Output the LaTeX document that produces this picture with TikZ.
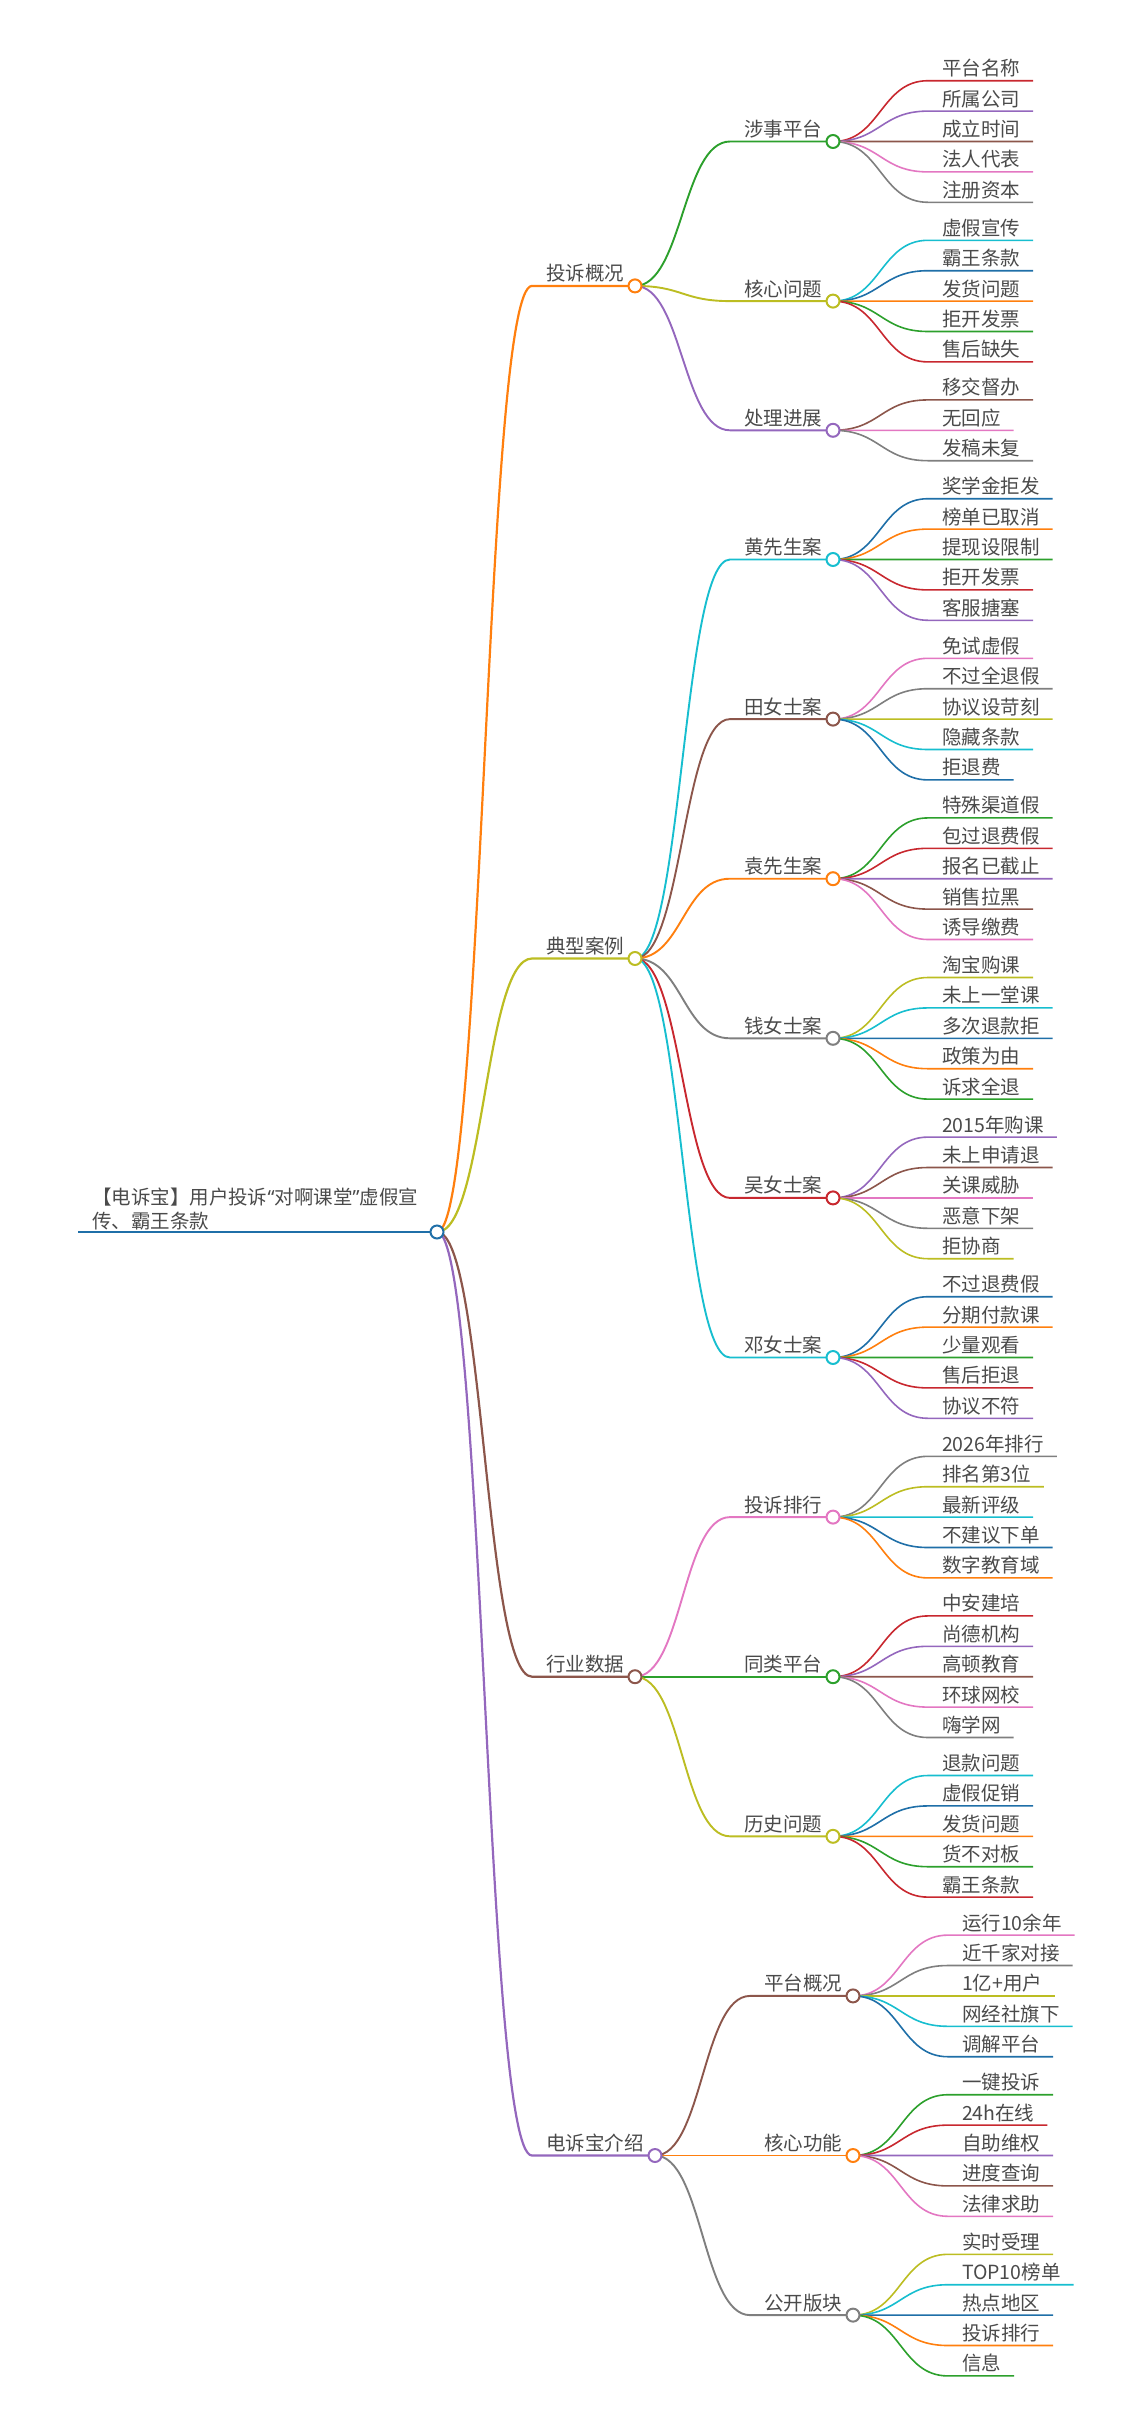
\documentclass[tikz,border=0pt]{standalone}
\usepackage{fontspec}
\setmainfont{Noto Sans CJK SC}
\newfontfamily\qfont{Noto Sans}
\usetikzlibrary{calc}
\pgfdeclarelayer{bg}
\pgfsetlayers{bg,main}
\definecolor{cblue}{HTML}{1F6FA8}
\definecolor{corange}{HTML}{FF7F0E}
\definecolor{cgreen}{HTML}{2CA02C}
\definecolor{cred}{HTML}{C8282F}
\definecolor{cpurple}{HTML}{9467BD}
\definecolor{cbrown}{HTML}{8C564B}
\definecolor{cpink}{HTML}{E377C2}
\definecolor{cgray}{HTML}{7F7F7F}
\definecolor{colive}{HTML}{BCBD22}
\definecolor{ccyan}{HTML}{17BECF}
\definecolor{txt}{RGB}{74,74,74}
\tikzset{
  mmtext/.style={inner sep=0pt, outer sep=0pt, text=txt, font=\fontsize{19.5}{24.5}\selectfont, anchor=base west},
  dot/.style={circle, fill=white, line width=2pt, minimum size=13pt, inner sep=0pt},
  lkroot/.style={line width=2.5pt},
  lk1/.style={line width=2.2pt},
  lk2/.style={line width=1.9pt},
  lkleaf/.style={line width=1.6pt},
}
% #1 name #2 parent #3 parent cx #4 y #5 color #6 own cx #7 width style #8 text
\newcommand\mmnode[8]{%
  \node[mmtext] (#1t) at ({#3+109},{#4-5}) {#8};
  \node[dot,draw=#5] (#1) at ({#6},{#4}) {};
  \coordinate (#1s) at ({#3+95},{#4});
  \begin{pgfonlayer}{bg}
    \draw[#5,#7] (#2.center) .. controls +(47.5,0) and +(-47.5,0) .. (#1s) -- (#1.center);
  \end{pgfonlayer}}
% #1 name #2 parent #3 parent cx #4 y #5 color #6 text
\newcommand\mmleaf[6]{%
  \node[mmtext] (#1) at ({#3+109},{#4-5}) {#6};
  \coordinate (#1s) at ({#3+95},{#4});
  \coordinate (#1e) at ($(#1.base east |- #1s)+(13,0)$);
  \begin{pgfonlayer}{bg}
    \draw[#5,lkleaf] (#2.center) .. controls +(47.5,0) and +(-47.5,0) .. (#1s) -- (#1e);
  \end{pgfonlayer}}
\newcommand\mmgroup[4]{% #1 parent #2 parent cx #3 start y #4 list
  \foreach \c/\t [count=\i] in {#4} {%
    \mmleaf{#1l\i}{#1}{#2}{#3+(\i-1)*30.4}{\c}{\t}}}
\begin{document}
\begin{tikzpicture}[x=1pt,y=-1pt]
\useasboundingbox (0,0) rectangle (1125,2434);
% root
\node[dot,draw=cblue] (root) at (437,1232) {};
\coordinate (roots) at (78,1232);
\node[mmtext,anchor=south west,align=left] (roott) at (92,1230.5)
  {【电诉宝】用户投诉{\qfont “}对啊课堂{\qfont ”}虚假宣\\传、霸王条款};
\begin{pgfonlayer}{bg}
  \draw[cblue,lkroot] (roots) -- (root.center);
\end{pgfonlayer}
% level 1
\mmnode{la}{root}{437}{285.9}{corange}{635}{lk1}{投诉概况}
\mmnode{lb}{root}{437}{958.5}{colive}{635}{lk1}{典型案例}
\mmnode{lc}{root}{437}{1676.7}{cbrown}{635}{lk1}{行业数据}
\mmnode{ld}{root}{437}{2155.5}{cpurple}{655}{lk1}{电诉宝介绍}
% level 2
\mmnode{ga}{la}{635}{141.5}{cgreen}{833}{lk2}{涉事平台}
\mmnode{gb}{la}{635}{301.1}{colive}{833}{lk2}{核心问题}
\mmnode{gc}{la}{635}{430.3}{cpurple}{833}{lk2}{处理进展}
\mmnode{gd}{lb}{635}{559.5}{ccyan}{833}{lk2}{黄先生案}
\mmnode{ge}{lb}{635}{719.1}{cbrown}{833}{lk2}{田女士案}
\mmnode{gf}{lb}{635}{878.7}{corange}{833}{lk2}{袁先生案}
\mmnode{gg}{lb}{635}{1038.3}{cgray}{833}{lk2}{钱女士案}
\mmnode{gh}{lb}{635}{1197.9}{cred}{833}{lk2}{吴女士案}
\mmnode{gi}{lb}{635}{1357.5}{ccyan}{833}{lk2}{邓女士案}
\mmnode{gj}{lc}{635}{1517.1}{cpink}{833}{lk2}{投诉排行}
\mmnode{gk}{lc}{635}{1676.7}{cgreen}{833}{lk2}{同类平台}
\mmnode{gl}{lc}{635}{1836.3}{colive}{833}{lk2}{历史问题}
\mmnode{gm}{ld}{655}{1995.9}{cbrown}{853}{lk2}{平台概况}
\mmnode{gn}{ld}{655}{2155.5}{corange}{853}{lk2}{核心功能}
\mmnode{go}{ld}{655}{2315.1}{cgray}{853}{lk2}{公开版块}
% leaves
\mmgroup{ga}{833}{80.7}{cred/平台名称,cpurple/所属公司,cbrown/成立时间,cpink/法人代表,cgray/注册资本}
\mmgroup{gb}{833}{240.3}{ccyan/虚假宣传,cblue/霸王条款,corange/发货问题,cgreen/拒开发票,cred/售后缺失}
\mmgroup{gc}{833}{399.9}{cbrown/移交督办,cpink/无回应,cgray/发稿未复}
\mmgroup{gd}{833}{498.7}{cblue/奖学金拒发,corange/榜单已取消,cgreen/提现设限制,cred/拒开发票,cpurple/客服搪塞}
\mmgroup{ge}{833}{658.3}{cpink/免试虚假,cgray/不过全退假,colive/协议设苛刻,ccyan/隐藏条款,cblue/拒退费}
\mmgroup{gf}{833}{817.9}{cgreen/特殊渠道假,cred/包过退费假,cpurple/报名已截止,cbrown/销售拉黑,cpink/诱导缴费}
\mmgroup{gg}{833}{977.5}{colive/淘宝购课,ccyan/未上一堂课,cblue/多次退款拒,corange/政策为由,cgreen/诉求全退}
\mmgroup{gh}{833}{1137.1}{cpurple/2015年购课,cbrown/未上申请退,cpink/关课威胁,cgray/恶意下架,colive/拒协商}
\mmgroup{gi}{833}{1296.7}{cblue/不过退费假,corange/分期付款课,cgreen/少量观看,cred/售后拒退,cpurple/协议不符}
\mmgroup{gj}{833}{1456.3}{cgray/2026年排行,colive/排名第3位,ccyan/最新评级,cblue/不建议下单,corange/数字教育域}
\mmgroup{gk}{833}{1615.9}{cred/中安建培,cpurple/尚德机构,cbrown/高顿教育,cpink/环球网校,cgray/嗨学网}
\mmgroup{gl}{833}{1775.5}{ccyan/退款问题,cblue/虚假促销,corange/发货问题,cgreen/货不对板,cred/霸王条款}
\mmgroup{gm}{853}{1935.1}{cpink/运行10余年,cgray/近千家对接,colive/1亿+用户,ccyan/网经社旗下,cblue/调解平台}
\mmgroup{gn}{853}{2094.7}{cgreen/一键投诉,cred/24h在线,cpurple/自助维权,cbrown/进度查询,cpink/法律求助}
\mmgroup{go}{853}{2254.3}{colive/实时受理,ccyan/TOP10榜单,cblue/热点地区,corange/投诉排行,cgreen/信息}
\end{tikzpicture}
\end{document}
